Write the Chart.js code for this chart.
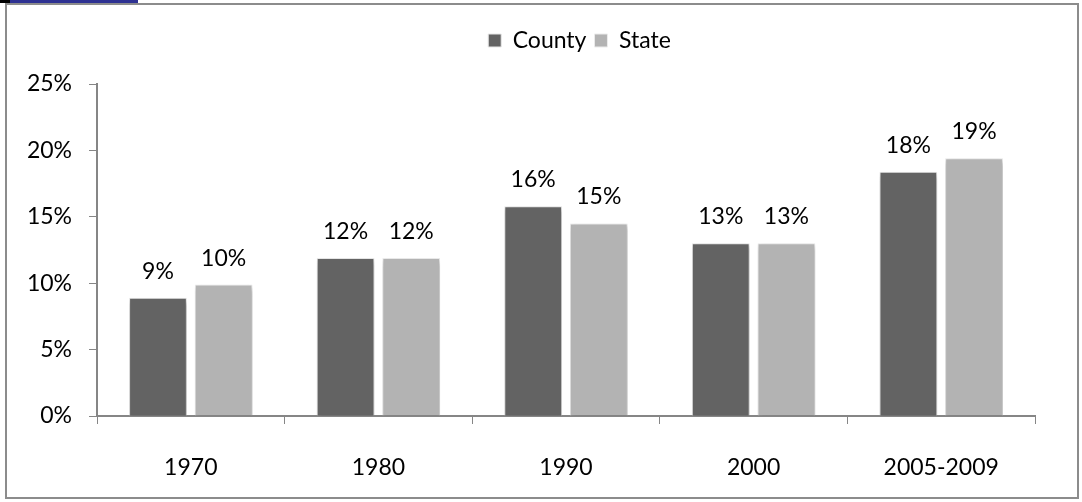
<!DOCTYPE html>
<html>
<head>
<meta charset="utf-8">
<script src="https://cdn.jsdelivr.net/npm/chart.js@4.4.0/dist/chart.umd.min.js"></script>
<style>
  html, body { margin: 0; padding: 0; background: #fff; }
  #wrap { position: absolute; left: 0; top: 0; width: 1082px; height: 502px; }
  #frame { position: absolute; left: 5px; top: 3px; width: 1070px; height: 492px; border: 2px solid #8c8c8c; box-sizing: content-box; }
  #tab { position: absolute; left: 0; top: 0; width: 128px; height: 3px; background: #2e3192; border-left: 10px solid #000; }
</style>
</head>
<body>
<div id="wrap">
  <div id="frame"></div>
  <div id="tab"></div>
  <canvas id="barChart" width="1082" height="502"></canvas>
</div>
<script>
const periods = ["1970", "1980", "1990", "2000", "2005-2009"];
const countyValues = [8.9, 11.9, 15.8, 13.0, 18.4];
const stateValues = [9.9, 11.9, 14.5, 13.0, 19.4];
const yTicks = [0, 5, 10, 15, 20, 25];

const FONT = "Lato, 'Open Sans', sans-serif";
const FSIZE = 23;

// soft shadow behind the bars, like the Excel original
const barShadow = {
  id: "barShadow",
  beforeDatasetsDraw(chart) {
    const c = chart.ctx;
    c.save();
    c.shadowColor = "rgba(0,0,0,0.3)";
    c.shadowBlur = 5;
    c.shadowOffsetX = 1;
    c.shadowOffsetY = 3;
  },
  afterDatasetsDraw(chart) {
    chart.ctx.restore();
  }
};

// value labels above each bar
const valueLabels = {
  id: "valueLabels",
  afterDatasetsDraw(chart) {
    const c = chart.ctx;
    c.save();
    c.font = FSIZE + "px " + FONT;
    c.fillStyle = "#000";
    c.textAlign = "center";
    c.textBaseline = "alphabetic";
    chart.data.datasets.forEach((ds, i) => {
      chart.getDatasetMeta(i).data.forEach((bar, j) => {
        c.fillText(Math.round(ds.data[j]) + "%", bar.x, bar.y - 19);
      });
    });
    c.restore();
  }
};

// extra room under the legend, and legend nudged right like the original
const legendGap = {
  id: "legendGap",
  beforeInit(chart) {
    const fit = chart.legend.fit;
    chart.legend.fit = function () {
      fit.bind(chart.legend)();
      this.height += 22;
    };
  },
  afterLayout(chart) {
    chart.legend.left += 62;
    chart.legend.right += 62;
  }
};

var ctx = document.getElementById("barChart").getContext("2d");
new Chart(ctx, {
  type: "bar",
  data: {
    labels: periods,
    datasets: [
      {
        label: "County",
        data: countyValues,
        backgroundColor: "#636363",
        borderColor: "#e8e8e8",
        borderWidth: 1,
        categoryPercentage: 0.7,
        barPercentage: 0.88
      },
      {
        label: "State",
        data: stateValues,
        backgroundColor: "#b3b3b3",
        borderColor: "#ececec",
        borderWidth: 1,
        categoryPercentage: 0.7,
        barPercentage: 0.88
      }
    ]
  },
  plugins: [barShadow, valueLabels, legendGap],
  options: {
    responsive: false,
    animation: false,
    layout: { padding: { left: 0, right: 47, top: 21, bottom: 0 } },
    plugins: {
      legend: {
        position: "top",
        labels: {
          boxWidth: 13,
          boxHeight: 13,
          padding: 8,
          color: "#000",
          font: { family: FONT, size: FSIZE }
        }
      },
      tooltip: { enabled: false }
    },
    scales: {
      x: {
        grid: {
          offset: true,
          drawOnChartArea: false,
          drawTicks: true,
          tickLength: 8,
          color: "#868686"
        },
        border: { color: "#868686", width: 2 },
        ticks: { color: "#000", padding: 30, font: { family: FONT, size: FSIZE } },
        afterFit(scale) { scale.height = 86; }
      },
      y: {
        min: 0,
        max: 25,
        afterBuildTicks(scale) {
          scale.ticks = yTicks.map((v) => ({ value: v }));
        },
        grid: {
          drawOnChartArea: false,
          drawTicks: true,
          tickLength: 8,
          color: "#868686"
        },
        border: { color: "#868686", width: 2 },
        ticks: {
          color: "#000",
          padding: 17,
          font: { family: FONT, size: FSIZE },
          callback: (v) => v + "%"
        },
        afterFit(scale) { scale.width = 97; }
      }
    }
  }
});
</script>
</body>
</html>
